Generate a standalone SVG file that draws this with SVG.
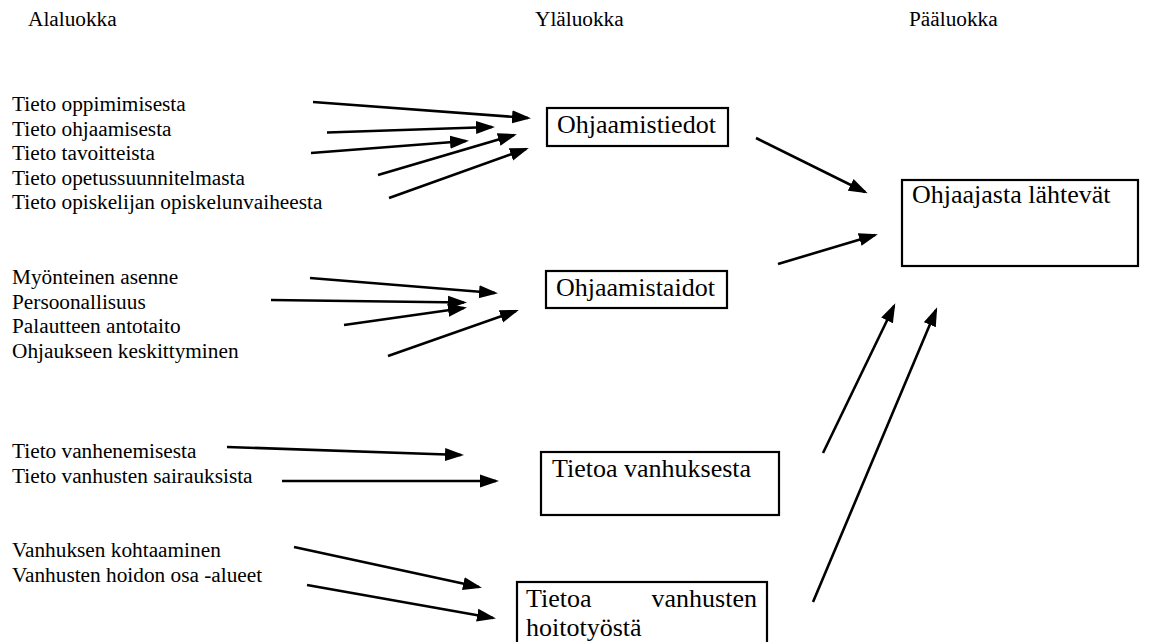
<svg xmlns="http://www.w3.org/2000/svg" width="1156" height="642" viewBox="0 0 1156 642">
  <style>
    .t { font-family: "Liberation Serif", "Times New Roman", serif; font-size: 21.3px; fill: #000; }
    .bt { font-family: "Liberation Serif", "Times New Roman", serif; font-size: 26px; fill: #000; }
    .box { fill: #fff; stroke: #000; stroke-width: 2.2; }
    .arr { stroke: #000; stroke-width: 2.6; fill: none; marker-end: url(#ah); }
  </style>
  <defs>
    <marker id="ah" markerUnits="userSpaceOnUse" markerWidth="20" markerHeight="14" refX="16" refY="7" orient="auto" viewBox="0 0 20 14">
      <path d="M0,0.5 L19,7 L0,13.5 z" fill="#000"/>
    </marker>
  </defs>
  <rect width="1156" height="642" fill="#fff"/>

  <g id="headers">
    <text class="t" x="28" y="26">Alaluokka</text>
    <text class="t" x="535" y="26">Yläluokka</text>
    <text class="t" x="909" y="26">Pääluokka</text>
  </g>

  <g id="group-tiedot-items">
    <text class="t" x="12" y="111">Tieto oppimimisesta</text>
    <text class="t" x="12" y="135.5">Tieto ohjaamisesta</text>
    <text class="t" x="12" y="160">Tieto tavoitteista</text>
    <text class="t" x="12" y="184.5">Tieto opetussuunnitelmasta</text>
    <text class="t" x="12" y="209">Tieto opiskelijan opiskelunvaiheesta</text>
  </g>

  <g id="group-taidot-items">
    <text class="t" x="12" y="284">Myönteinen asenne</text>
    <text class="t" x="12" y="308.5">Persoonallisuus</text>
    <text class="t" x="12" y="333">Palautteen antotaito</text>
    <text class="t" x="12" y="357.5">Ohjaukseen keskittyminen</text>
  </g>

  <g id="group-vanhus-items">
    <text class="t" x="12" y="458">Tieto vanhenemisesta</text>
    <text class="t" x="12" y="482.5">Tieto vanhusten sairauksista</text>
  </g>

  <g id="group-hoitotyo-items">
    <text class="t" x="12" y="557">Vanhuksen kohtaaminen</text>
    <text class="t" x="12" y="581.5">Vanhusten hoidon osa -alueet</text>
  </g>

  <g id="node-ohjaamistiedot">
    <rect class="box" x="547" y="108" width="181" height="38"/>
    <text class="bt" x="557" y="133">Ohjaamistiedot</text>
  </g>

  <g id="node-ohjaamistaidot">
    <rect class="box" x="546" y="271" width="181" height="37"/>
    <text class="bt" x="556" y="296">Ohjaamistaidot</text>
  </g>

  <g id="node-tietoa-vanhuksesta">
    <rect class="box" x="541" y="452" width="238" height="63"/>
    <text class="bt" x="552" y="477">Tietoa vanhuksesta</text>
  </g>

  <g id="node-tietoa-hoitotyosta">
    <rect class="box" x="517" y="582" width="250" height="70"/>
    <text class="bt" x="526" y="607">Tietoa</text>
    <text class="bt" x="757" y="607" text-anchor="end">vanhusten</text>
    <text class="bt" x="526" y="636">hoitotyöstä</text>
  </g>

  <g id="node-ohjaajasta-lahtevat">
    <rect class="box" x="902" y="180" width="236" height="86"/>
    <text class="bt" x="912" y="203">Ohjaajasta lähtevät</text>
  </g>

  <g id="connectors">
    <line class="arr" x1="313" y1="102" x2="528" y2="118"/>
    <line class="arr" x1="327" y1="132.5" x2="492" y2="127"/>
    <line class="arr" x1="311" y1="153" x2="466" y2="141"/>
    <line class="arr" x1="378" y1="175" x2="514" y2="135"/>
    <line class="arr" x1="389" y1="198" x2="526" y2="149"/>

    <line class="arr" x1="310" y1="278" x2="495" y2="293"/>
    <line class="arr" x1="271" y1="300" x2="464" y2="302.5"/>
    <line class="arr" x1="344" y1="325" x2="464" y2="308"/>
    <line class="arr" x1="388" y1="356" x2="516" y2="311"/>

    <line class="arr" x1="227" y1="447" x2="461" y2="455"/>
    <line class="arr" x1="282" y1="481" x2="496" y2="481"/>

    <line class="arr" x1="294" y1="547" x2="479" y2="587"/>
    <line class="arr" x1="307" y1="585" x2="493" y2="618"/>

    <line class="arr" x1="756" y1="138" x2="865" y2="192"/>
    <line class="arr" x1="778" y1="264" x2="875" y2="235"/>
    <line class="arr" x1="823" y1="453" x2="894" y2="306"/>
    <line class="arr" x1="813" y1="602" x2="936" y2="310"/>
  </g>
</svg>
